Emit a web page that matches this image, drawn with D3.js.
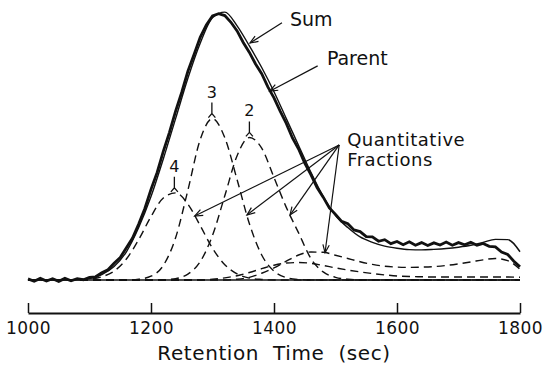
<!DOCTYPE html>
<html>
<head>
<meta charset="utf-8">
<script src="https://cdn.jsdelivr.net/npm/d3@7"></script>
<style>
  html, body { margin: 0; padding: 0; background: #fff; }
  svg { display: block; }
</style>
</head>
<body>
<div id="chart"></div>
<script>
// retention time grid (sec) for the smooth curves, 20 s apart
const grid20 = [1000, 1020, 1040, 1060, 1080, 1100, 1120, 1140, 1160, 1180,
                1200, 1220, 1240, 1260, 1280, 1300, 1320, 1340, 1360, 1380,
                1400, 1420, 1440, 1460, 1480, 1500, 1520, 1540, 1560, 1580,
                1600, 1620, 1640, 1660, 1680, 1700, 1720, 1740, 1760, 1780, 1800];

// fitted sum (thin solid line), % of max
const sumValues = [0, 0, 0, 0, 0.1, 0.5, 2.0, 5.0, 10.5, 19.5,
                   31, 45, 60, 75, 88, 97.5, 99.6, 94.5, 87, 79,
                   70, 60, 50, 40, 31, 24, 19.5, 16, 14, 12.6,
                   11.8, 11.3, 11.2, 11.4, 11.7, 12.2, 12.9, 14.0, 15.1, 15.0, 10.5];

// quantitative fractions (dashed)
const frac4 = [0, 0, 0, 0, 0, 0.3, 1.2, 3.3, 7.8, 15.0,
               23.6, 30.5, 32.4, 28.2, 20.2, 11.8, 5.7, 2.3, 0.7, 0.2,
               0, 0, 0, 0, 0, 0, 0, 0, 0, 0,
               0, 0, 0, 0, 0, 0, 0, 0, 0, 0, 0];
const frac3 = [0, 0, 0, 0, 0, 0, 0, 0, 0, 0.3,
               1.4, 5.4, 15.7, 33.4, 52.2, 60, 52.9, 37.3, 20.9, 9.3,
               3.3, 0.9, 0.2, 0, 0, 0, 0, 0, 0, 0,
               0, 0, 0, 0, 0, 0, 0, 0, 0, 0, 0];
const frac2 = [0, 0, 0, 0, 0, 0, 0, 0, 0, 0,
               0, 0.1, 0.5, 2.2, 6.8, 16.6, 31.3, 46.2, 53, 49,
               38.1, 27, 17.5, 8, 3, 1, 0.3, 0, 0, 0,
               0, 0, 0, 0, 0, 0, 0, 0, 0, 0, 0];
const frac1 = [0, 0, 0, 0, 0, 0, 0, 0, 0, 0,
               0, 0, 0, 0, 0, 0, 0, 0.3, 1, 2.5,
               4.5, 7, 9.3, 10.4, 10.3, 9.2, 8, 6.8, 5.8, 5.1,
               4.8, 4.7, 4.8, 5.0, 5.4, 6.0, 6.7, 7.5, 8.0, 7.2, 4.0];
const frac5 = [0, 0, 0, 0, 0, 0, 0, 0, 0, 0,
               0, 0, 0, 0, 0, 0.3, 0.8, 1.6, 2.8, 4.2,
               5.5, 6.3, 6.5, 6.2, 5.4, 4.5, 3.7, 3.0, 2.4, 1.9,
               1.5, 1.3, 1.2, 1.1, 1.1, 1.1, 1.1, 1.1, 1.1, 1.1, 1.0];

// measured parent chromatogram (thick noisy line), 10 s apart
const grid10 = [1000, 1010, 1020, 1030, 1040, 1050, 1060, 1070, 1080, 1090,
                1100, 1110, 1120, 1130, 1140, 1150, 1160, 1170, 1180, 1190,
                1200, 1210, 1220, 1230, 1240, 1250, 1260, 1270, 1280, 1290,
                1300, 1310, 1320, 1330, 1340, 1350, 1360, 1370, 1380, 1390,
                1400, 1410, 1420, 1430, 1440, 1450, 1460, 1470, 1480, 1490,
                1500, 1510, 1520, 1530, 1540, 1550, 1560, 1570, 1580, 1590,
                1600, 1610, 1620, 1630, 1640, 1650, 1660, 1670, 1680, 1690,
                1700, 1710, 1720, 1730, 1740, 1750, 1760, 1770, 1780, 1790, 1800];
const parentValues = [0.4, -0.5, 0.6, -0.4, 0.5, -0.5, 0.6, -0.3, 0.5, 0.1,
                      1.0, 1.2, 2.7, 3.8, 6.2, 8.4, 12.0, 15.6, 20.8, 26.6,
                      33.7, 40.0, 47.8, 54.9, 62.8, 69.8, 77.6, 83.8, 90.2, 94.8,
                      98.2, 99.0, 98.3, 95.8, 92.6, 88.3, 84.6, 80.3, 76.7, 71.8,
                      67.7, 62.8, 58.2, 52.8, 48.7, 43.4, 39.2, 34.4, 30.8, 26.8,
                      24.4, 21.8, 20.9, 18.6, 18.0, 16.1, 16.0, 14.4, 15.0, 13.5,
                      14.3, 13.1, 14.2, 12.9, 13.9, 12.8, 13.8, 13.0, 14.1, 12.9,
                      13.9, 13.1, 14.0, 12.9, 13.6, 12.5, 12.3, 10.4, 9.5, 7.0, 4.9];

const xTicks = [1000, 1200, 1400, 1600, 1800];

// peak markers on fractions 4, 3, 2
const peakNames = ["4", "3", "2"];
const peakTimes = [1238, 1299, 1360];
const peakValues = [32.4, 60, 53];

// where the "Quantitative Fractions" arrows land
const arrowTimes = [1271, 1356, 1426, 1483];

const width = 550, height = 373;
const font = "'DejaVu Sans', sans-serif";
const ink = "#111";

const x = d3.scaleLinear().domain([1000, 1800]).range([28, 520]);
const y = d3.scaleLinear().domain([0, 100]).range([280, 11]);

const svg = d3.select("#chart").append("svg")
    .attr("width", width)
    .attr("height", height)
    .attr("viewBox", [0, 0, width, height]);

svg.append("rect").attr("width", width).attr("height", height).attr("fill", "white");

svg.append("defs").append("marker")
    .attr("id", "arrow")
    .attr("viewBox", "-10 -5 12 10")
    .attr("refX", 0).attr("refY", 0)
    .attr("markerWidth", 12).attr("markerHeight", 10)
    .attr("markerUnits", "userSpaceOnUse")
    .attr("orient", "auto")
  .append("path")
    .attr("d", "M-8,-3.2L0,0L-8,3.2")
    .attr("fill", "none")
    .attr("stroke", ink)
    .attr("stroke-width", 1.2);

function valueAt(values, t) {
    const i = d3.bisectRight(grid20, t) - 1;
    const f = (t - grid20[i]) / (grid20[i + 1] - grid20[i]);
    return values[i] + f * (values[i + 1] - values[i]);
}

const smooth = d3.line()
    .curve(d3.curveMonotoneX)
    .x((d, i) => x(grid20[i]))
    .y(d => y(d));

// zero line
svg.append("line")
    .attr("x1", x(1000)).attr("x2", x(1800))
    .attr("y1", y(0)).attr("y2", y(0))
    .attr("stroke", ink).attr("stroke-width", 1.5);

// fractions
svg.selectAll("path.frac")
    .data([frac4, frac3, frac2, frac1, frac5])
    .join("path")
    .attr("class", "frac")
    .attr("d", smooth)
    .attr("fill", "none")
    .attr("stroke", ink)
    .attr("stroke-width", 1.4)
    .attr("stroke-dasharray", "8,5");

// sum
svg.append("path")
    .datum(sumValues)
    .attr("d", smooth)
    .attr("fill", "none")
    .attr("stroke", ink)
    .attr("stroke-width", 1.4);

// parent
svg.append("path")
    .datum(parentValues)
    .attr("d", d3.line().x((d, i) => x(grid10[i])).y(d => y(d)))
    .attr("fill", "none")
    .attr("stroke", ink)
    .attr("stroke-width", 2.8)
    .attr("stroke-linejoin", "miter");

// x axis
const gx = svg.append("g")
    .attr("transform", "translate(0,313)")
    .call(d3.axisBottom(x).tickValues(xTicks).tickSize(-10).tickSizeOuter(0).tickPadding(9).tickFormat(d3.format("d")));
gx.select(".domain").attr("stroke", ink).attr("stroke-width", 2);
gx.selectAll(".tick line").attr("stroke", ink).attr("stroke-width", 1.5);
gx.selectAll(".tick text")
    .attr("font-family", font)
    .attr("font-size", 17)
    .attr("letter-spacing", 0.5)
    .attr("fill", ink);

svg.append("text")
    .attr("x", (x(1000) + x(1800)) / 2)
    .attr("y", 360)
    .attr("text-anchor", "middle")
    .attr("font-family", font)
    .attr("font-size", 20)
    .attr("letter-spacing", 0.6)
    .attr("word-spacing", 7)
    .attr("fill", ink)
    .text("Retention Time (sec)");

// peak markers
peakNames.forEach((name, i) => {
    const px = x(peakTimes[i]), py = y(peakValues[i]);
    svg.append("text")
        .attr("x", px).attr("y", py - 21)
        .attr("text-anchor", "middle")
        .attr("font-family", font)
        .attr("font-size", 16)
        .attr("fill", ink)
        .text(name);
    svg.append("path")
        .attr("d", `M${px},${py - 16}V${py - 5}M${px - 3.5},${py - 1}L${px},${py - 5}L${px + 3.5},${py - 1}`)
        .attr("fill", "none")
        .attr("stroke", ink)
        .attr("stroke-width", 1.3);
});

// annotations
function label(text, t, v, size, spacing) {
    svg.append("text")
        .attr("x", x(t)).attr("y", y(v))
        .attr("font-family", font)
        .attr("font-size", size)
        .attr("letter-spacing", spacing)
        .attr("fill", ink)
        .text(text);
}
function arrow(t0, v0, t1, v1) {
    svg.append("line")
        .attr("x1", x(t0)).attr("y1", y(v0))
        .attr("x2", x(t1)).attr("y2", y(v1))
        .attr("stroke", ink)
        .attr("stroke-width", 1.2)
        .attr("marker-end", "url(#arrow)");
}

label("Sum", 1426, 94.4, 19, 0);
arrow(1413, 95.6, 1361, valueAt(sumValues, 1361) + 1.5);

label("Parent", 1486, 80, 19, 0);
arrow(1471, 79.6, 1393, 70.2);

label("Quantitative", 1519, 50.0, 18, 0.5);
label("Fractions", 1519, 42.2, 18, 0.5);
[frac4, frac3, frac2, frac1].forEach((f, i) => {
    arrow(1506, 50.2, arrowTimes[i], valueAt(f, arrowTimes[i]));
});
</script>
</body>
</html>
